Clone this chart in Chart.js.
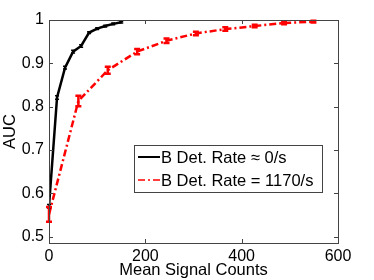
<!DOCTYPE html>
<html>
<head>
<meta charset="utf-8">
<script src="https://cdn.jsdelivr.net/npm/chart.js@4"></script>
<style>
  body { margin: 0; background: #fff; }
  #wrap { width: 374px; height: 280px; }
</style>
</head>
<body>
<div id="wrap"><canvas id="auc"></canvas></div>
<script>
// valores
const blackX = [0, 16.7, 33.3, 50, 66.7, 83.3, 100, 116.7, 133.3, 150];
const blackAuc = [0.570, 0.821, 0.890, 0.927, 0.940, 0.971, 0.980, 0.986, 0.991, 0.995];
const blackErr = [0.004, 0.004, 0.003, 0.003, 0.003, 0.002, 0.002, 0.002, 0.002, 0.002];

const redX = [0, 61, 122, 183, 244, 305, 366, 427, 488, 549];
const redAuc = [0.551, 0.813, 0.884, 0.927, 0.952, 0.969, 0.979, 0.986, 0.993, 0.996];
const redErr = [0.017, 0.012, 0.008, 0.006, 0.005, 0.004, 0.004, 0.003, 0.003, 0.002];

const xTicks = [0, 200, 400, 600];
const yTicks = [0.5, 0.6, 0.7, 0.8, 0.9, 1];

const seriesLabels = ['B Det. Rate \u2248 0/s', 'B Det. Rate = 1170/s'];
const errors = [blackErr, redErr];

const FONT = 'Liberation Sans, Arial, Helvetica, sans-serif';
const AXIS = '#444';

// barras de erro desenhadas com as escalas do gráfico
const errorBars = {
    id: 'errorBars',
    afterDatasetsDraw(chart) {
        const ctx = chart.ctx;
        const xs = chart.scales.x, ys = chart.scales.y;
        chart.data.datasets.forEach((ds, i) => {
            const err = errors[i];
            const cap = i === 0 ? 2 : 3;
            ctx.save();
            ctx.strokeStyle = ds.borderColor;
            ctx.lineWidth = i === 0 ? 1.5 : 2.5;
            ds.data.forEach((p, j) => {
                const px = xs.getPixelForValue(p.x);
                const top = ys.getPixelForValue(p.y + err[j]);
                const bot = ys.getPixelForValue(p.y - err[j]);
                ctx.beginPath();
                ctx.moveTo(px, top); ctx.lineTo(px, bot);
                ctx.moveTo(px - cap, top); ctx.lineTo(px + cap, top);
                ctx.moveTo(px - cap, bot); ctx.lineTo(px + cap, bot);
                ctx.stroke();
            });
            ctx.restore();
        });
    }
};

// caixa do eixo com ticks para dentro (estilo Matlab) e legenda
const boxAndLegend = {
    id: 'boxAndLegend',
    afterDraw(chart) {
        const ctx = chart.ctx;
        const a = chart.chartArea;
        const xs = chart.scales.x, ys = chart.scales.y;
        ctx.save();
        ctx.strokeStyle = AXIS;
        ctx.lineWidth = 1;
        ctx.strokeRect(a.left + 0.5, a.top + 0.5, a.right - a.left, a.bottom - a.top);
        ctx.beginPath();
        xTicks.forEach(v => {
            const px = Math.round(xs.getPixelForValue(v)) + 0.5;
            ctx.moveTo(px, a.bottom); ctx.lineTo(px, a.bottom - 4);
            ctx.moveTo(px, a.top); ctx.lineTo(px, a.top + 4);
        });
        yTicks.forEach(v => {
            const py = Math.round(ys.getPixelForValue(v)) + 0.5;
            ctx.moveTo(a.left, py); ctx.lineTo(a.left + 4, py);
            ctx.moveTo(a.right, py); ctx.lineTo(a.right - 4, py);
        });
        ctx.stroke();

        // legenda
        const lx = 134, ly = 145, lw = 188, lh = 47;
        ctx.fillStyle = '#fff';
        ctx.fillRect(lx, ly, lw, lh);
        ctx.strokeStyle = AXIS;
        ctx.strokeRect(lx + 0.5, ly + 0.5, lw, lh);
        ctx.font = '16.5px ' + FONT;
        ctx.textBaseline = 'middle';
        const rows = [157, 180];
        chart.data.datasets.forEach((ds, i) => {
            ctx.strokeStyle = ds.borderColor;
            ctx.lineWidth = i === 0 ? 2 : 1.5;
            ctx.setLineDash(ds.borderDash || []);
            ctx.beginPath();
            ctx.moveTo(138, rows[i]); ctx.lineTo(160, rows[i]);
            ctx.stroke();
            ctx.setLineDash([]);
            ctx.fillStyle = '#000';
            ctx.fillText(seriesLabels[i], 161, rows[i] + 1);
        });
        ctx.restore();
    }
};

const chart = new Chart(document.getElementById('auc'), {
    type: 'line',
    data: {
        datasets: [{
            label: seriesLabels[0],
            data: blackX.map((x, i) => ({ x: x, y: blackAuc[i] })),
            borderColor: '#000',
            borderWidth: 2.5,
            pointRadius: 0,
            tension: 0,
            fill: false
        }, {
            label: seriesLabels[1],
            data: redX.map((x, i) => ({ x: x, y: redAuc[i] })),
            borderColor: '#ff0000',
            borderWidth: 2.5,
            borderDash: [7, 3, 2, 3],
            pointRadius: 0,
            tension: 0,
            fill: false
        }]
    },
    options: {
        responsive: true,
        maintainAspectRatio: false,
        animation: false,
        layout: { padding: { top: 20, right: 36, left: 0, bottom: 0 } },
        plugins: { legend: { display: false }, tooltip: { enabled: false } },
        scales: {
            x: {
                type: 'linear',
                min: 0, max: 600,
                afterBuildTicks: s => { s.ticks = xTicks.map(v => ({ value: v })); },
                afterFit: s => { s.height = 37; },
                grid: { display: false, drawTicks: false },
                border: { display: false },
                ticks: { color: '#000', padding: 4, maxRotation: 0, font: { family: FONT, size: 16 } },
                title: { display: true, text: 'Mean Signal Counts', color: '#000', padding: 0, font: { family: FONT, size: 16.5 } }
            },
            y: {
                min: 0.485, max: 1,
                afterBuildTicks: s => { s.ticks = yTicks.map(v => ({ value: v })); },
                afterFit: s => { s.width = 49; },
                grid: { display: false, drawTicks: false },
                border: { display: false },
                ticks: {
                    color: '#000', padding: 5, font: { family: FONT, size: 16 },
                    callback: v => String(+v.toFixed(1))
                },
                title: { display: true, text: 'AUC', color: '#000', padding: 1, font: { family: FONT, size: 16.5 } }
            }
        }
    },
    plugins: [errorBars, boxAndLegend]
});
</script>
</body>
</html>
